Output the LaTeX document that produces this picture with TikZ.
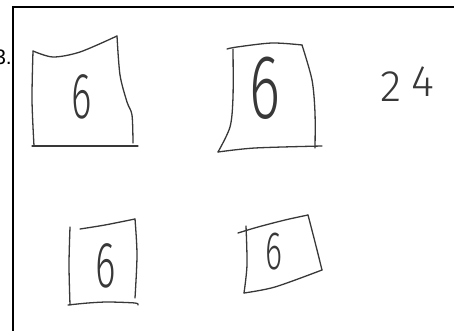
\documentclass[tikz,border=0pt]{standalone}
\usepackage{fontspec}
\newfontfamily\handfont{Fira Sans Light}
\newfontfamily\printfont{Liberation Sans}
\tikzset{
  sk/.style={draw=black!78, line width=1.3pt, line cap=round, line join=round},   % hand-drawn stroke
  frame/.style={draw=black, line width=2pt},
  digit/.style={text=black!78, inner sep=0pt, font=\handfont\fontsize{#1}{#1}\selectfont},
}

\begin{document}
\begin{tikzpicture}[x=1pt,y=-1pt]
  \useasboundingbox (0,0) rectangle (454,331);
  % frame, only top and left edges show
  \draw[frame] (454,7) -- (12.5,7) -- (12.5,331);
  \node[anchor=base east, inner sep=0pt, font=\printfont\fontsize{21}{21}\selectfont] (num) at (12,65) {3.};

  % box 1
  \draw[sk] plot[smooth] coordinates {(33,51) (53,57) (80,52) (117,36)};
  \draw[sk] plot[smooth] coordinates {(117,36) (120,75) (127,102) (132,115) (133,143)};
  \draw[sk] plot[smooth] coordinates {(33,51) (32,100) (34,146)};
  \draw[sk] (32,146) -- (138,146);
  \node[digit=65, xscale=0.6] (s1) at (82,97) {6};

  % box 2
  \draw[sk] plot[smooth] coordinates {(227,49) (237,47) (272,43) (302,45)};
  \draw[sk] plot[smooth] coordinates {(302,45) (312,80) (315,113) (315,148)};
  \draw[sk] plot[smooth] coordinates {(233,49) (233,97) (230,127) (218,152)};
  \draw[sk] plot[smooth] coordinates {(218,152) (255,148) (322,146)};
  \node[digit=91, xscale=0.65] (s2) at (265,88) {6};

  % box 3
  \draw[sk] plot[smooth] coordinates {(70,227) (69,265) (70,305)};
  \draw[sk] plot[smooth] coordinates {(80,229) (105,225) (135,219)};
  \draw[sk] plot[smooth] coordinates {(135,219) (137,255) (135,298)};
  \draw[sk] plot[smooth] coordinates {(68,305) (88,303) (108,302) (135,303) (138,305)};
  \node[digit=65, xscale=0.6] (s3) at (106,266) {6};

  % box 4
  \draw[sk] plot[smooth] coordinates {(238,233) (258,227) (285,220) (308,215)};
  \draw[sk] plot[smooth] coordinates {(246,226) (247,265) (244,293)};
  \draw[sk] plot[smooth] coordinates {(308,215) (315,242) (322,270)};
  \draw[sk] plot[smooth] coordinates {(244,293) (275,287) (322,270)};
  \node[digit=54, xscale=0.6] (s4) at (274,252) {6};

  % total
  \node[digit=44, anchor=base] (tot) at (407,102) {2\hspace{10pt}\raisebox{5pt}{4}};
\end{tikzpicture}
\end{document}
